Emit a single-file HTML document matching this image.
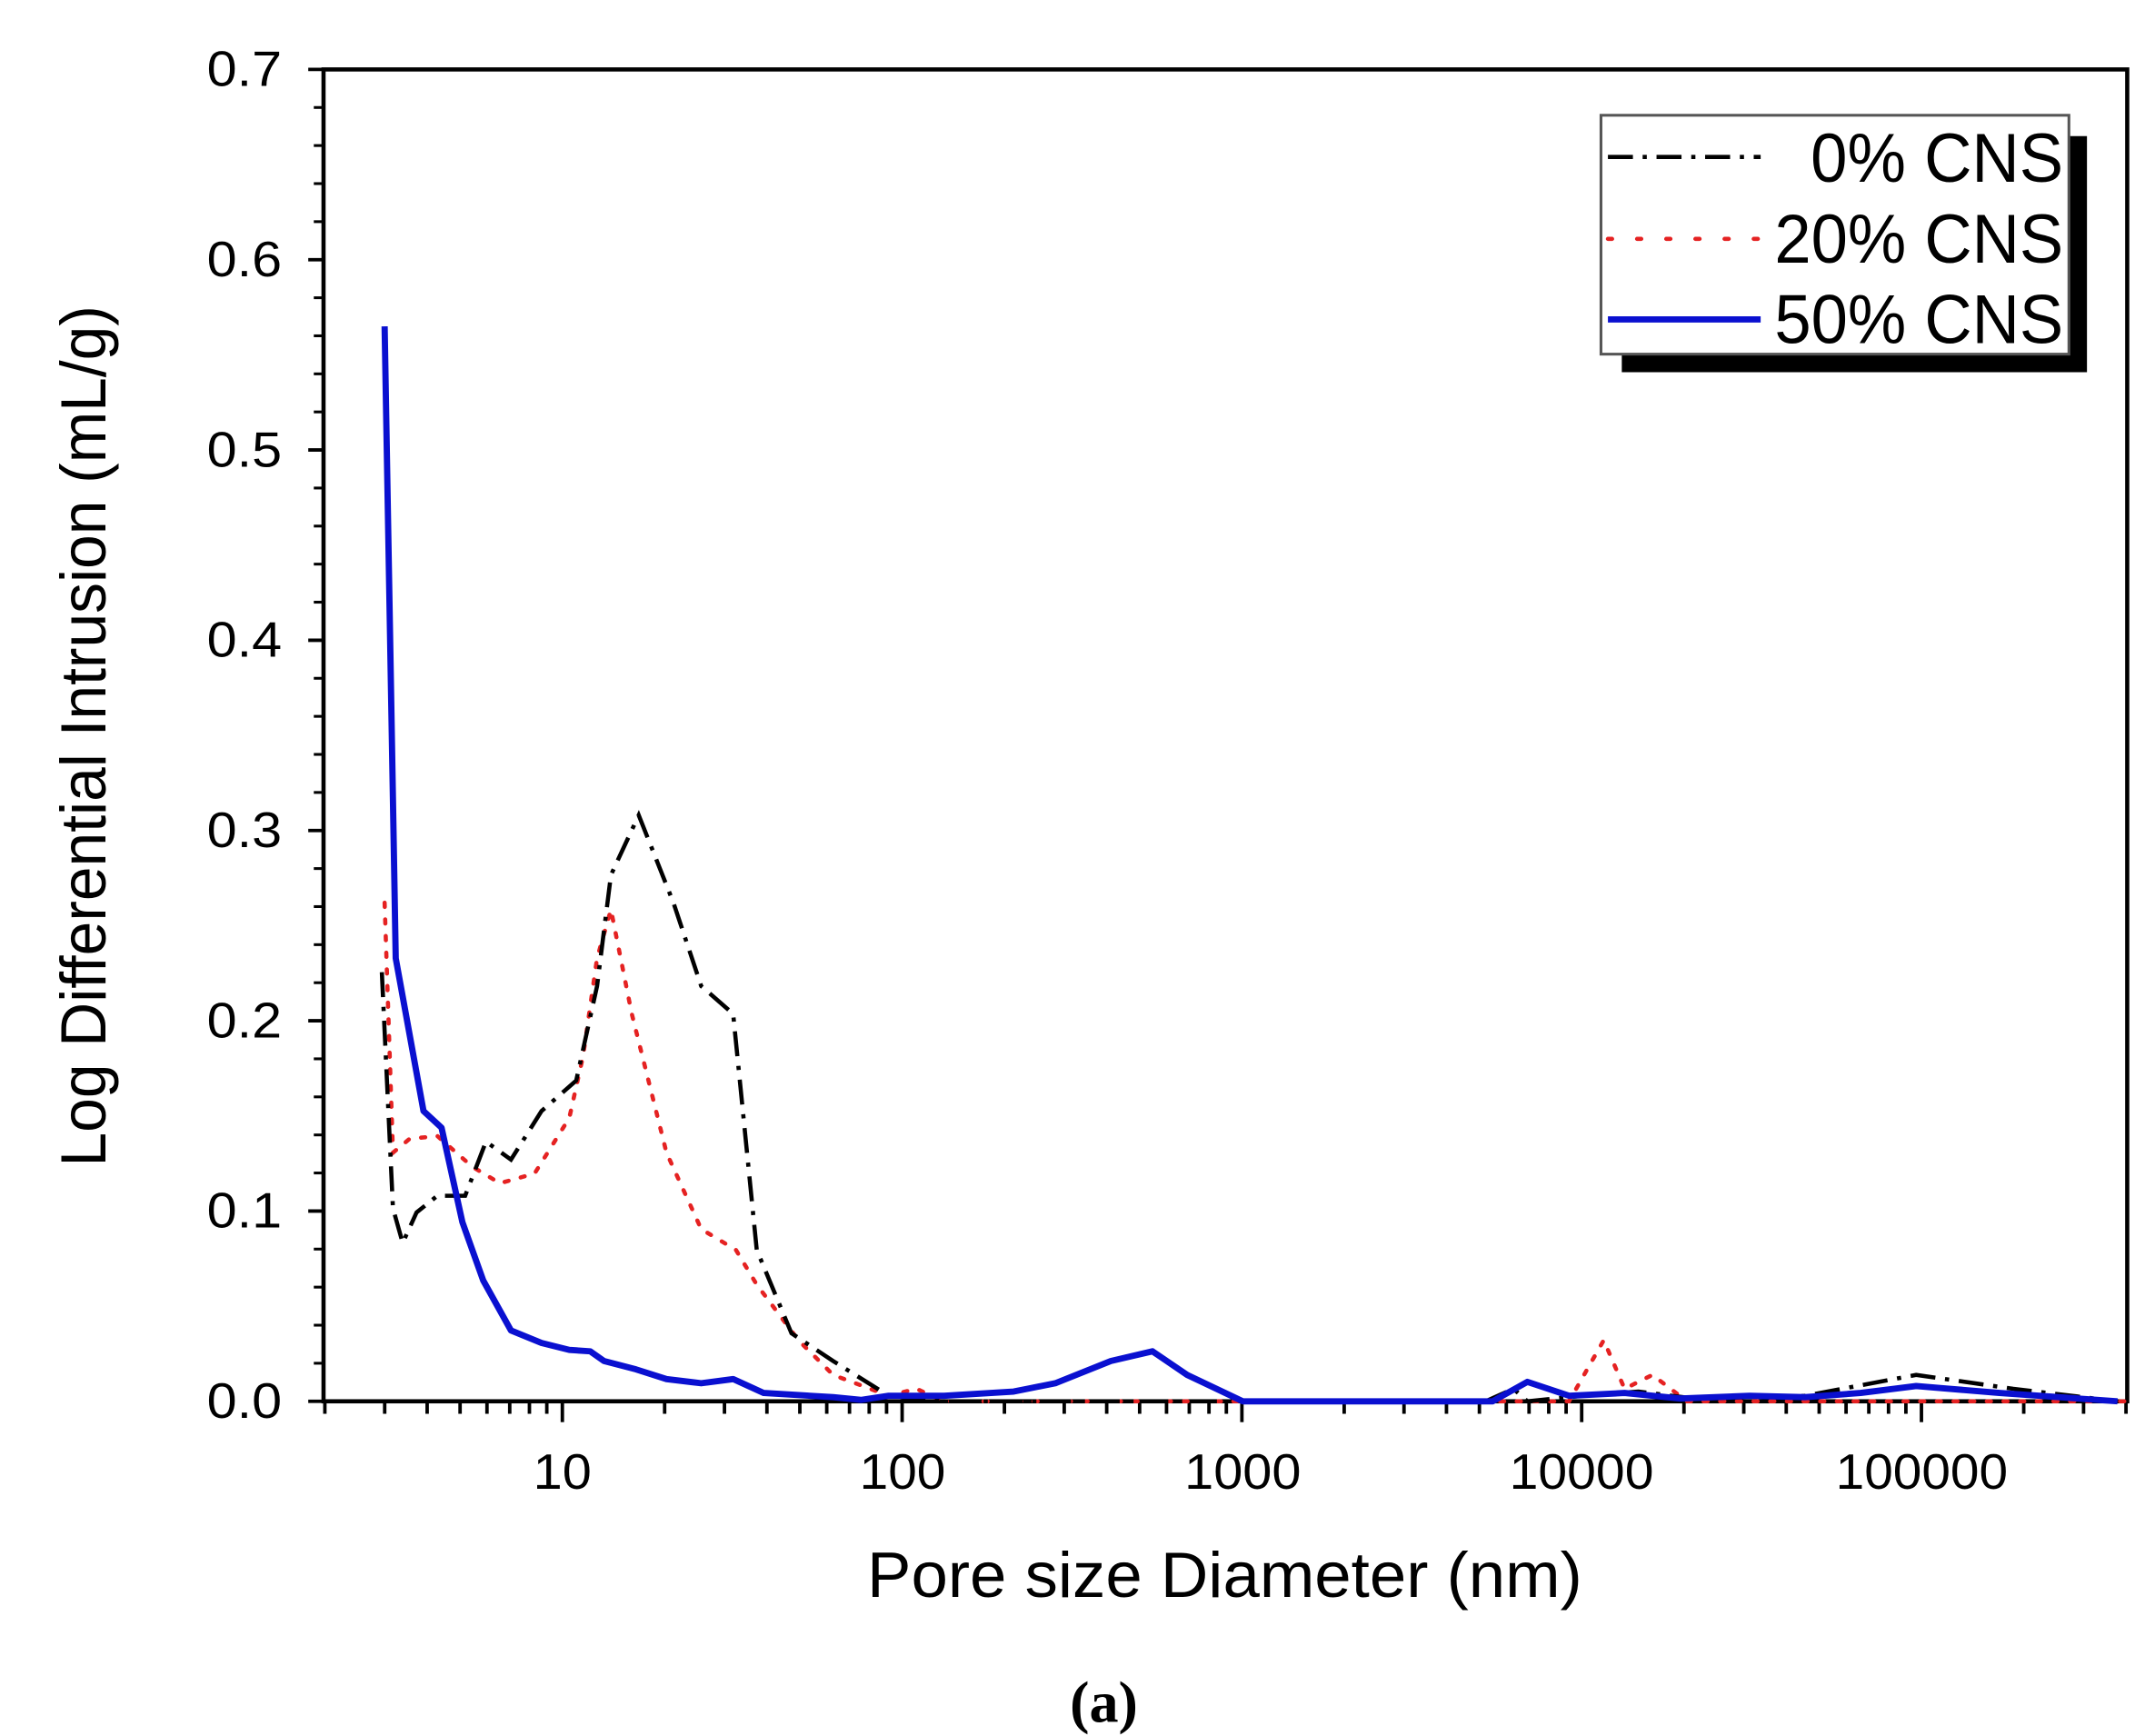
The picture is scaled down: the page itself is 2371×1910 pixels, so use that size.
<!DOCTYPE html>
<html><head><meta charset="utf-8"><style>
html,body{margin:0;padding:0;background:#fff;}
svg{display:block;}
</style></head><body>
<svg width="2371" height="1910" viewBox="0 0 1552 1250" preserveAspectRatio="none" xmlns="http://www.w3.org/2000/svg" font-family="Liberation Sans, sans-serif">
<rect width="1552" height="1250" fill="#fff"/>
<rect x="233" y="50" width="1299" height="959" fill="none" stroke="#000" stroke-width="3"/>
<g stroke="#000" stroke-width="2.5">
<line x1="222" y1="50" x2="233" y2="50"/><line x1="222" y1="187" x2="233" y2="187"/><line x1="222" y1="324" x2="233" y2="324"/><line x1="222" y1="461" x2="233" y2="461"/><line x1="222" y1="598" x2="233" y2="598"/><line x1="222" y1="735" x2="233" y2="735"/><line x1="222" y1="872" x2="233" y2="872"/><line x1="222" y1="1009" x2="233" y2="1009"/>
</g>
<g stroke="#000" stroke-width="2" id="ymin"></g>
<g stroke="#000" stroke-width="2.5" id="xt"></g>
<g font-size="36" fill="#000" text-anchor="end">
<text x="203" y="62" textLength="54" lengthAdjust="spacingAndGlyphs">0.7</text><text x="203" y="199" textLength="54" lengthAdjust="spacingAndGlyphs">0.6</text><text x="203" y="336" textLength="54" lengthAdjust="spacingAndGlyphs">0.5</text><text x="203" y="473" textLength="54" lengthAdjust="spacingAndGlyphs">0.4</text><text x="203" y="610" textLength="54" lengthAdjust="spacingAndGlyphs">0.3</text><text x="203" y="747" textLength="54" lengthAdjust="spacingAndGlyphs">0.2</text><text x="203" y="884" textLength="54" lengthAdjust="spacingAndGlyphs">0.1</text><text x="203" y="1021" textLength="54" lengthAdjust="spacingAndGlyphs">0.0</text>
</g>
<g font-size="36" fill="#000" text-anchor="middle">
<text x="405" y="1072" textLength="42" lengthAdjust="spacingAndGlyphs">10</text><text x="650" y="1072" textLength="62" lengthAdjust="spacingAndGlyphs">100</text><text x="895" y="1072" textLength="84" lengthAdjust="spacingAndGlyphs">1000</text><text x="1139" y="1072" textLength="104" lengthAdjust="spacingAndGlyphs">10000</text><text x="1384" y="1072" textLength="124" lengthAdjust="spacingAndGlyphs">100000</text>
</g>
<text x="882" y="1150" font-size="46" text-anchor="middle" textLength="515" lengthAdjust="spacingAndGlyphs">Pore size Diameter (nm)</text>
<text transform="translate(76,530) rotate(-90)" font-size="46" text-anchor="middle" textLength="620" lengthAdjust="spacingAndGlyphs">Log Differential Intrusion (mL/g)</text>
<text x="795" y="1240" font-size="42" font-weight="bold" font-family="Liberation Serif, serif" text-anchor="middle">(a)</text>
<polyline fill="none" stroke="#e52222" stroke-width="3" stroke-dasharray="3 9" stroke-linecap="round" points="277,650 283,830 295,820 315,818 340,840 360,852 385,845 410,805 420,760 430,690 440,655 455,730 480,830 505,885 530,900 545,925 575,965 600,990 640,1005 660,1000 680,1009 1130,1009 1155,965 1170,1000 1190,990 1215,1009 1530,1009"/>
<polyline fill="none" stroke="#000" stroke-width="3" stroke-dasharray="18 7 3 7" points="275,700 283,870 290,895 300,873 315,861 335,861 350,822 368,835 390,800 415,778 430,710 440,630 460,587 485,650 505,710 528,730 545,900 570,960 600,980 640,1005 680,1009 1070,1009 1090,1000 1100,1009 1140,1005 1180,1002 1220,1007 1300,1005 1380,990 1450,1000 1525,1009"/>
<polyline fill="none" stroke="#0a10d0" stroke-width="4.5" stroke-linejoin="round" points="277,235 285,690 305,800 318,812 333,880 348,922 368,958 390,967 410,972 425,973 435,980 458,986 480,993 505,996 528,993 550,1003 600,1006 620,1008 640,1005 680,1005 730,1002 760,996 800,980 830,973 855,990 895,1009 1075,1009 1100,995 1130,1005 1170,1003 1210,1007 1260,1005 1300,1006 1340,1003 1380,998 1440,1003 1525,1009"/>
<rect x="1168" y="98" width="335" height="170" fill="#000"/>
<rect x="1153" y="83" width="337" height="172" fill="#fff" stroke="#555" stroke-width="2"/>
<line x1="1158" y1="113" x2="1268" y2="113" stroke="#000" stroke-width="3" stroke-dasharray="18 7 3 7"/>
<line x1="1158" y1="172" x2="1268" y2="172" stroke="#e52222" stroke-width="3" stroke-dasharray="3 18" stroke-linecap="round"/>
<line x1="1158" y1="230" x2="1268" y2="230" stroke="#0a10d0" stroke-width="4.5"/>
<g font-size="50" text-anchor="end">
<text x="1486" y="131" textLength="182" lengthAdjust="spacingAndGlyphs">0% CNS</text>
<text x="1486" y="189" textLength="208" lengthAdjust="spacingAndGlyphs">20% CNS</text>
<text x="1486" y="247" textLength="208" lengthAdjust="spacingAndGlyphs">50% CNS</text>
</g>
<script>
(function(){
var ns="http://www.w3.org/2000/svg";
var ym=document.getElementById("ymin");
for(var v=0;v<=0.7001;v+=0.02){var y=1009-v*1370;var l=document.createElementNS(ns,"line");l.setAttribute("x1",226);l.setAttribute("x2",233);l.setAttribute("y1",y);l.setAttribute("y2",y);ym.appendChild(l);}
var xt=document.getElementById("xt");
for(var d=0;d<=5;d++){for(var m=1;m<=9;m++){var val=m*Math.pow(10,d);if(val<2||val>400000)continue;var x=405+244.7*Math.log10(val/10);if(x>1532)continue;var l=document.createElementNS(ns,"line");l.setAttribute("x1",x);l.setAttribute("x2",x);l.setAttribute("y1",1009);l.setAttribute("y2",m==1?1024:1018);xt.appendChild(l);}}
})();
</script>
</svg>
</body></html>
